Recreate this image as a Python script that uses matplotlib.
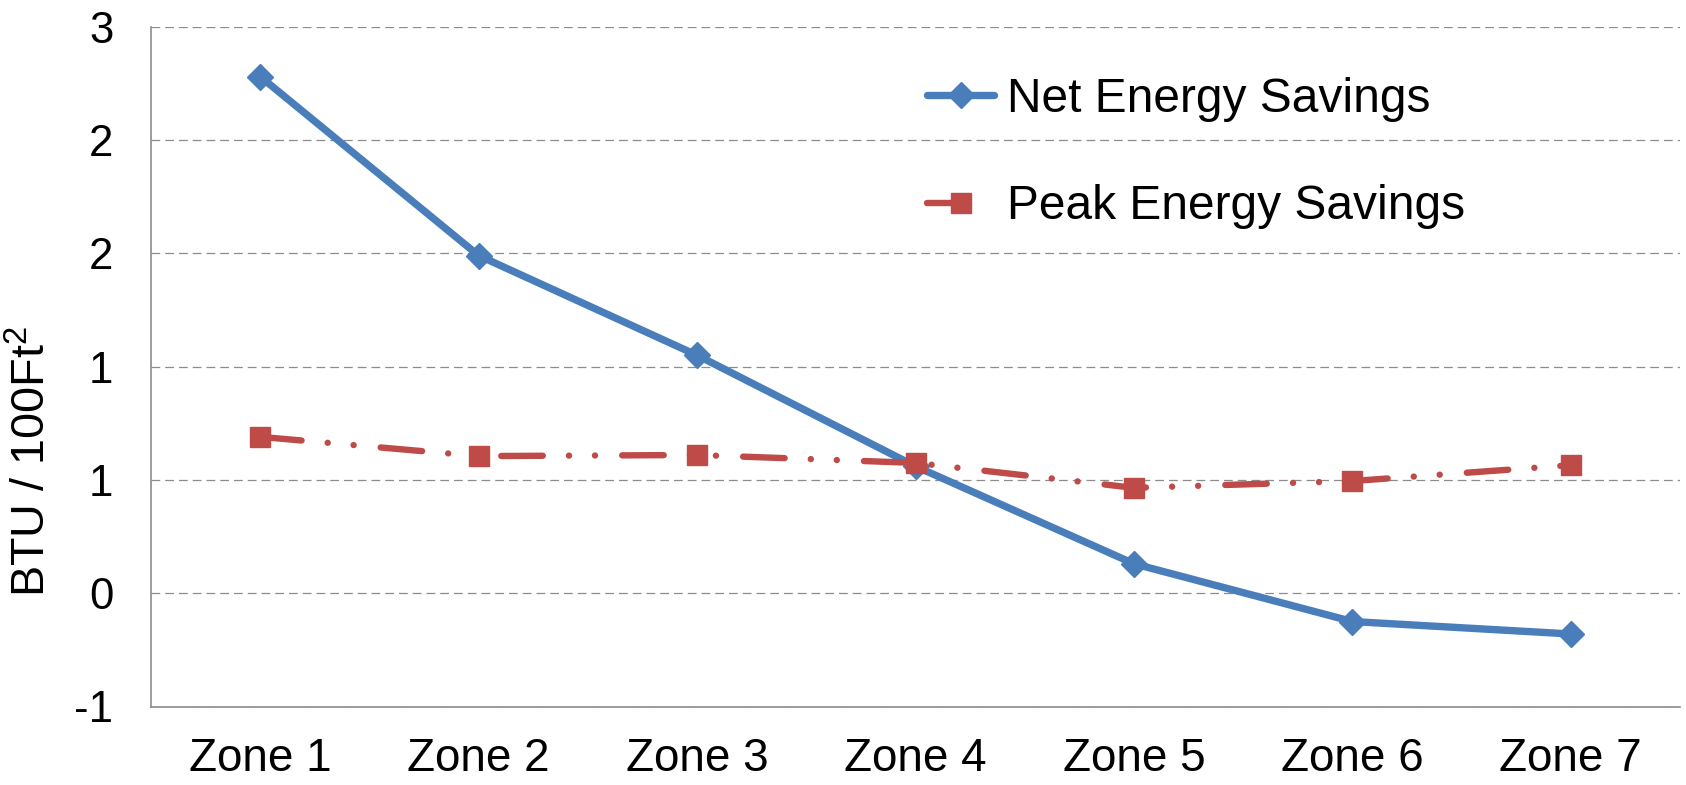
import matplotlib
matplotlib.use("Agg")
import matplotlib.pyplot as plt

plt.rcParams["font.family"] = ["Liberation Sans", "DejaVu Sans"]
plt.rcParams["mathtext.default"] = "regular"

# data
zones = ["Zone 1", "Zone 2", "Zone 3", "Zone 4", "Zone 5", "Zone 6", "Zone 7"]
net_savings = [2.28, 1.49, 1.05, 0.56, 0.13, -0.125, -0.18]
peak_savings = [0.69, 0.605, 0.61, 0.575, 0.465, 0.495, 0.565]

# excel showed the 0.5 steps rounded to whole numbers
ytick_values = [-0.5, 0.0, 0.5, 1.0, 1.5, 2.0, 2.5]
ytick_labels = ["-1", "0", "1", "1", "2", "2", "3"]

BLUE = "#4A7EBB"
RED = "#BE4B48"
GRID = "#8C8C8C"

fig = plt.figure(figsize=(16.86, 7.85), dpi=100)
ax = fig.add_axes([151 / 1686, 1 - 706.5 / 785, (1680 - 151) / 1686, (706.5 - 26.7) / 785])

x = list(range(len(zones)))
ax.plot(x, net_savings, color=BLUE, lw=5.3, marker="D", ms=13.5,
        solid_capstyle="round", label="Net Energy Savings", zorder=3)
ax.plot(x, peak_savings, color=RED, lw=4.6, marker="s", ms=15,
        dashes=(6.5, 4.1, 0.01, 4.06, 0.01, 4.25), dash_capstyle="round",
        label="Peak Energy Savings", zorder=4)

ax.set_xlim(-0.5, 6.5)
ax.set_ylim(-0.5, 2.5)
ax.set_xticks(x)
ax.set_xticklabels(zones, fontsize=33)
ax.set_yticks(ytick_values)
ax.set_yticklabels(ytick_labels, fontsize=31.5)
ax.tick_params(axis="both", length=0)
ax.tick_params(axis="x", pad=22)
ax.tick_params(axis="y", pad=27)

ax.yaxis.grid(True, color=GRID, lw=0.9, dashes=(7, 4))
ax.set_axisbelow(True)
for s in ["top", "right"]:
    ax.spines[s].set_visible(False)
for s in ["left", "bottom"]:
    ax.spines[s].set_color(GRID)
    ax.spines[s].set_linewidth(1.2)

fig.text(32.5 / 1686, 1 - 462 / 785, "BTU / 100Ft$^2$", rotation=90,
         ha="center", va="center", fontsize=33.7)

ax.legend(loc="upper left", bbox_to_anchor=(0.5075, 0.926), frameon=False,
          fontsize=34.5, handlelength=1.4, handletextpad=0.27,
          labelspacing=1.3, borderpad=0, borderaxespad=0)

fig.savefig("out.png", dpi=100)
